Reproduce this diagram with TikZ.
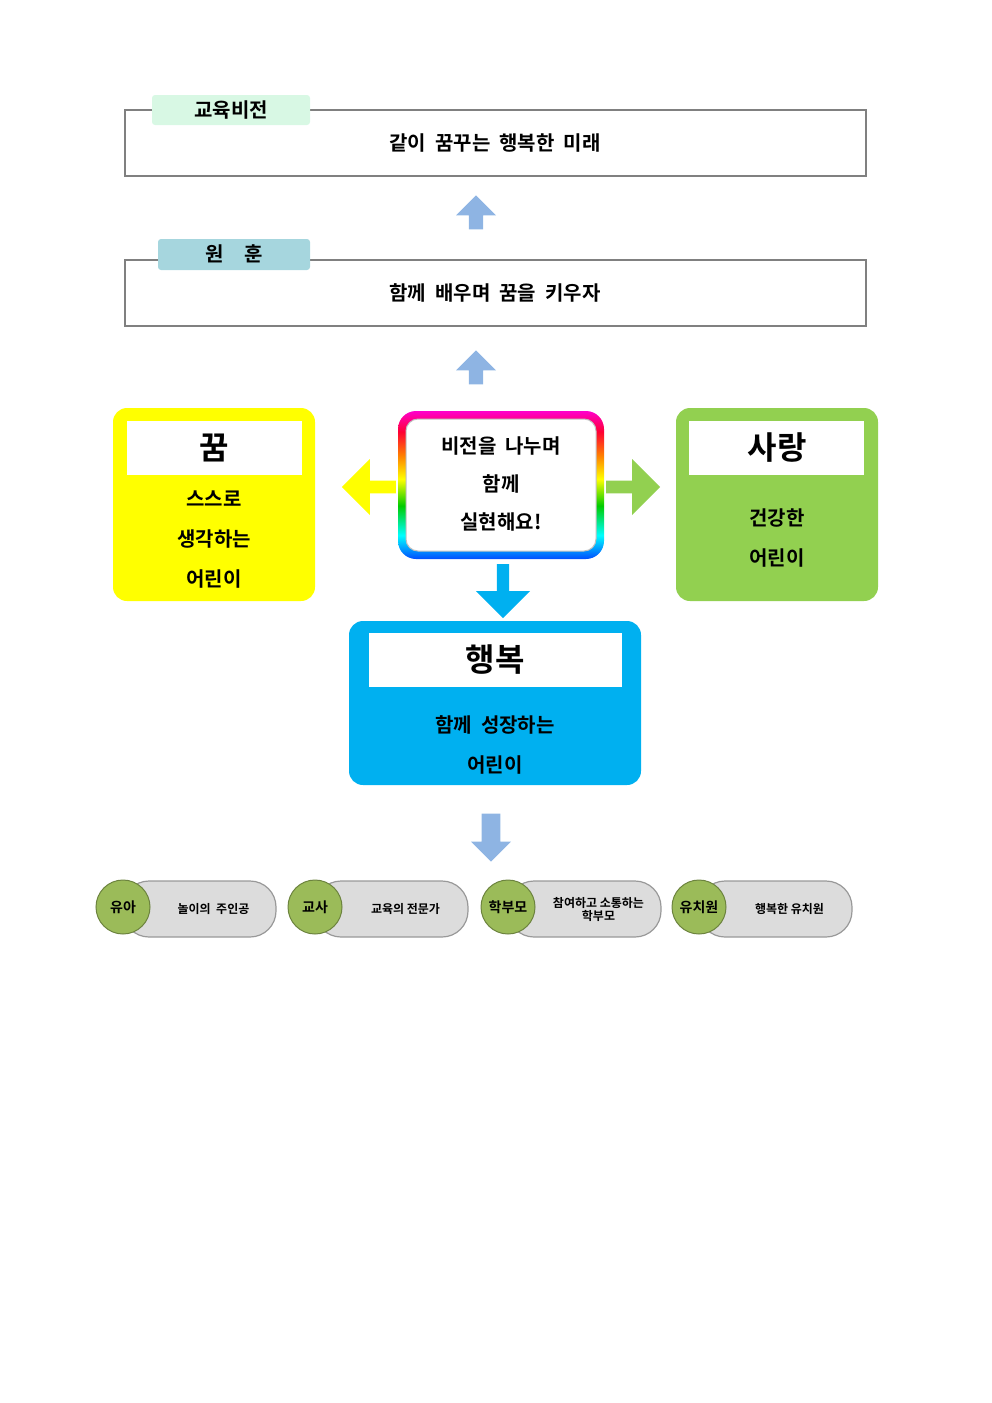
\documentclass[tikz,border=0pt]{standalone}
\usepackage{fontspec}
\setmainfont{Noto Sans CJK KR}[BoldFont={* Bold}]
\usetikzlibrary{shapes.arrows, positioning}
\definecolor{tabgreen}{HTML}{D8F8E4}
\definecolor{tabblue}{HTML}{A6D6DE}
\definecolor{upblue}{HTML}{8EB4E3}
\definecolor{dreamyellow}{HTML}{FFFF00}
\definecolor{lovegreen}{HTML}{92D050}
\definecolor{joyblue}{HTML}{00B0F0}
\definecolor{pillgray}{HTML}{DCDCDC}
\definecolor{dotgreen}{HTML}{9BBB59}
\pgfdeclareverticalshading{rainbow}{100bp}{
  color(0bp)=(blue!70!cyan); color(25bp)=(blue!70!cyan); color(33bp)=(cyan); color(43bp)=(green!80!black);
  color(52bp)=(yellow); color(60bp)=(orange); color(68bp)=(red!80!magenta); color(75bp)=(magenta!80!red); color(100bp)=(magenta!80!red)}
\tikzset{
  framebox/.style={draw=gray, line width=1.2pt},
  tabbox/.style={rounded corners=3pt, font=\bfseries\fontsize{20}{24}\selectfont},
  upblock/.style={single arrow, draw=none, fill=upblue, shape border rotate=90,
    minimum width=40pt, single arrow head extend=4pt, minimum height=34pt, inner sep=2pt},
  valuebox/.style={rounded corners=14pt},
  whitebar/.style={fill=white},
  pill/.style={fill=pillgray, draw=gray!80, line width=1.2pt, rounded corners=26pt},
  dot/.style={circle, fill=dotgreen, draw=dotgreen!70!black, line width=1pt, minimum size=54pt, inner sep=0pt, font=\bfseries\fontsize{14}{16}\selectfont},
  pilltext/.style={font=\bfseries\fontsize{12}{13}\selectfont, align=center},
  bigtxt/.style={font=\bfseries\fontsize{32}{36}\selectfont},
  linetxt/.style={font=\bfseries\fontsize{20}{40}\selectfont, align=center}
}
\begin{document}
\begin{tikzpicture}[x=1pt, y=-1pt]
\useasboundingbox (0,0) rectangle (992,1403);
% vision
\draw[framebox] (125,110) rectangle (866,176);
\node[linetxt] (vision) at (495,143) {같이\ \ 꿈꾸는\ \ 행복한\ \ 미래};
\filldraw[tabbox, fill=tabgreen, draw=none] (152,95) rectangle (310,125);
\node[tabbox] (visiontab) at (231,110) {교육비전};
\node[upblock] (up1) at (476,216) {};
% motto
\draw[framebox] (125,260) rectangle (866,326);
\node[linetxt] (motto) at (495,293) {함께\ \ 배우며\ \ 꿈을\ \ 키우자};
\filldraw[tabbox, fill=tabblue, draw=none] (158,239) rectangle (310,270);
\node[tabbox] (mottotab) at (234,254) {원\quad 훈};
\node[upblock] (up2) at (476,371) {};
% dream
\fill[valuebox, dreamyellow] (113,408) rectangle (315,601);
\fill[whitebar] (127,421) rectangle (302,475);
\node[bigtxt] (dream) at (214,448) {꿈};
\node[linetxt] (dreamtxt) at (214,540) {스스로\\생각하는\\어린이};
% love
\fill[valuebox, lovegreen] (676,408) rectangle (878,601);
\fill[whitebar] (689,421) rectangle (864,475);
\node[bigtxt] (love) at (777,448) {사랑};
\node[linetxt] (lovetxt) at (777,538) {건강한\\어린이};
% happiness
\fill[valuebox, joyblue] (349,621) rectangle (641,785);
\fill[whitebar] (369,633) rectangle (622,687);
\node[bigtxt] (joy) at (495,660) {행복};
\node[linetxt] (joytxt) at (495,745) {함께\ \ 성장하는\\어린이};
% centre
\shade[shading=rainbow, rounded corners=18pt] (398,411) rectangle (604,559);
\filldraw[fill=white, draw=gray!50, line width=1pt, rounded corners=12pt] (406,419) rectangle (596,551);
\node[font=\bfseries\fontsize{20}{38}\selectfont, align=center] (centre) at (501,484) {비전을\ \ 나누며\\함께\\실현해요!};
\node[single arrow, fill=dreamyellow, minimum width=56pt, minimum height=54pt, single arrow head extend=12pt, shape border rotate=180] (toleft) at (372,487) {};
\node[single arrow, fill=lovegreen, minimum width=56pt, minimum height=54pt, single arrow head extend=12pt] (toright) at (630,487) {};
\node[single arrow, fill=joyblue, minimum width=54pt, minimum height=54pt, single arrow head extend=12pt, shape border rotate=270] (todown) at (503,588) {};
\node[single arrow, fill=upblue, minimum width=40pt, minimum height=48pt, single arrow head extend=4pt, shape border rotate=270] (down2) at (491,833) {};
% members
\foreach \cx/\ex/\who/\what in {123/276/유아/놀이의\ \ 주인공, 315/468/교사/교육의\ 전문가, 508/661/학부모/참여하고 소통하는\\학부모, 699/852/유치원/행복한 유치원}{
  \draw[pill] (\cx,881) rectangle (\ex,937);
  \node[pilltext] at ({(\cx+\ex)/2+14},909) {\what};
  \node[dot] at (\cx,907) {\who};
}
\end{tikzpicture}
\end{document}
